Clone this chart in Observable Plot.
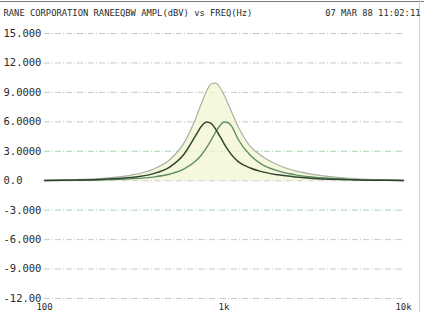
<!DOCTYPE html>
<html><head><meta charset="utf-8">
<script src="https://cdn.jsdelivr.net/npm/d3@7"></script>
<script src="https://cdn.jsdelivr.net/npm/@observablehq/plot@0.6"></script>
<style>
body{margin:0;background:#fff;}
#wrap{position:relative;width:424px;height:312px;overflow:hidden;background:#fff}
.topline{position:absolute;left:0;top:1px;width:424px;height:1px;background:#7a7a7a}
.rightline{position:absolute;left:419px;top:0;width:1px;height:312px;background:#cfcfcf}
</style></head>
<body><div id="wrap"><div class="topline"></div><div class="rightline"></div></div>
<script>
const titleText = "RANE CORPORATION RANEEQBW AMPL(dBV) vs FREQ(Hz)";
const dateText = "07 MAR 88 11:02:11";
const yTicks = [15, 12, 9, 6, 3, 0, -3, -6, -9, -12];
const yLabels = ["15.000", "12.000", "9.0000", "6.0000", "3.0000", "0.0", "-3.000", "-6.000", "-9.000", "-12.00"];
const xTicks = [100, 1000, 10000];
const xLabels = ["100", "1k", "10k"];
const freq = [100,150,200,300,400,500,600,700,750,800,850,900,950,1000,1050,1100,1200,1400,1600,2000,2500,3000,4000,5000,7000,10000];
const tall = [0.05,0.12,0.22,0.55,1.14,2.16,3.88,6.47,7.91,9.14,9.88,9.95,9.5,8.75,7.9,7.05,5.5,3.5,2.6,1.6,1.0,0.7,0.4,0.25,0.12,0.05];
const lowPeak = [0.03,0.07,0.13,0.32,0.70,1.41,2.72,4.69,5.57,5.99,5.83,5.24,4.51,3.79,3.17,2.66,1.95,1.3,0.95,0.6,0.38,0.26,0.15,0.09,0.05,0.02];
const highPeak = [0.02,0.04,0.08,0.19,0.37,0.68,1.2,2.05,2.65,3.37,4.18,4.98,5.63,5.99,5.93,5.59,4.2,2.6,1.75,1.0,0.6,0.4,0.22,0.14,0.07,0.03];

const rows = (vals, s) => freq.map((f, i) => ({f, v: vals[i], s}));
const dT = rows(tall, "T"), dB = rows(lowPeak, "B"), dC = rows(highPeak, "C");

const chart = Plot.plot({
  width: 424, height: 312,
  marginTop: 33, marginBottom: 14, marginLeft: 44, marginRight: 21,
  x: {type: "log", domain: [100, 10000], axis: null},
  y: {domain: [-12, 15], axis: null},
  style: {fontFamily: "DejaVu Sans Mono", background: "transparent", color: "#2a2a2a"},
  marks: [
    Plot.ruleY(yTicks, {stroke: d => (d === 3 || d === -3) ? "#a8d2ad" : "#c6cbc3", strokeDasharray: "6,2,1,2", strokeWidth: 1}),
    Plot.areaY(dT, {x: "f", y: "v", fill: "#f3f6d2", fillOpacity: 0.75, curve: "monotone-x"}),
    Plot.line(dT, {x: "f", y: "v", stroke: "#a9b2a3", strokeWidth: 1.2, curve: "monotone-x"}),
    Plot.line(dC, {x: "f", y: "v", stroke: "#5e8d64", strokeWidth: 1.4, curve: "monotone-x"}),
    Plot.line(dB, {x: "f", y: "v", stroke: "#2e4632", strokeWidth: 1.5, curve: "monotone-x"}),
    Plot.text([titleText], {frameAnchor: "top-left", dx: -41, dy: -20, text: d => d, textAnchor: "start", lineAnchor: "middle", fontSize: 8.8, fill: "#2a2a2a"}),
    Plot.text([dateText], {frameAnchor: "top-right", dx: 17, dy: -20, text: d => d, textAnchor: "end", lineAnchor: "middle", fontSize: 8.8, fill: "#2a2a2a"}),
    Plot.text(yTicks, {y: d => d, frameAnchor: "left", dx: -41, text: (d, i) => yLabels[i], textAnchor: "start", lineAnchor: "middle", fontSize: 10.5, fill: "#2a2a2a"}),
    Plot.text(xTicks, {x: d => d, frameAnchor: "bottom", dy: 9, text: (d, i) => xLabels[i], textAnchor: "middle", lineAnchor: "middle", fontSize: 9, fill: "#2a2a2a"})
  ]
});
chart.style.position = "absolute";
chart.style.left = "0";
chart.style.top = "0";
document.getElementById("wrap").appendChild(chart);
</script>
</body></html>
